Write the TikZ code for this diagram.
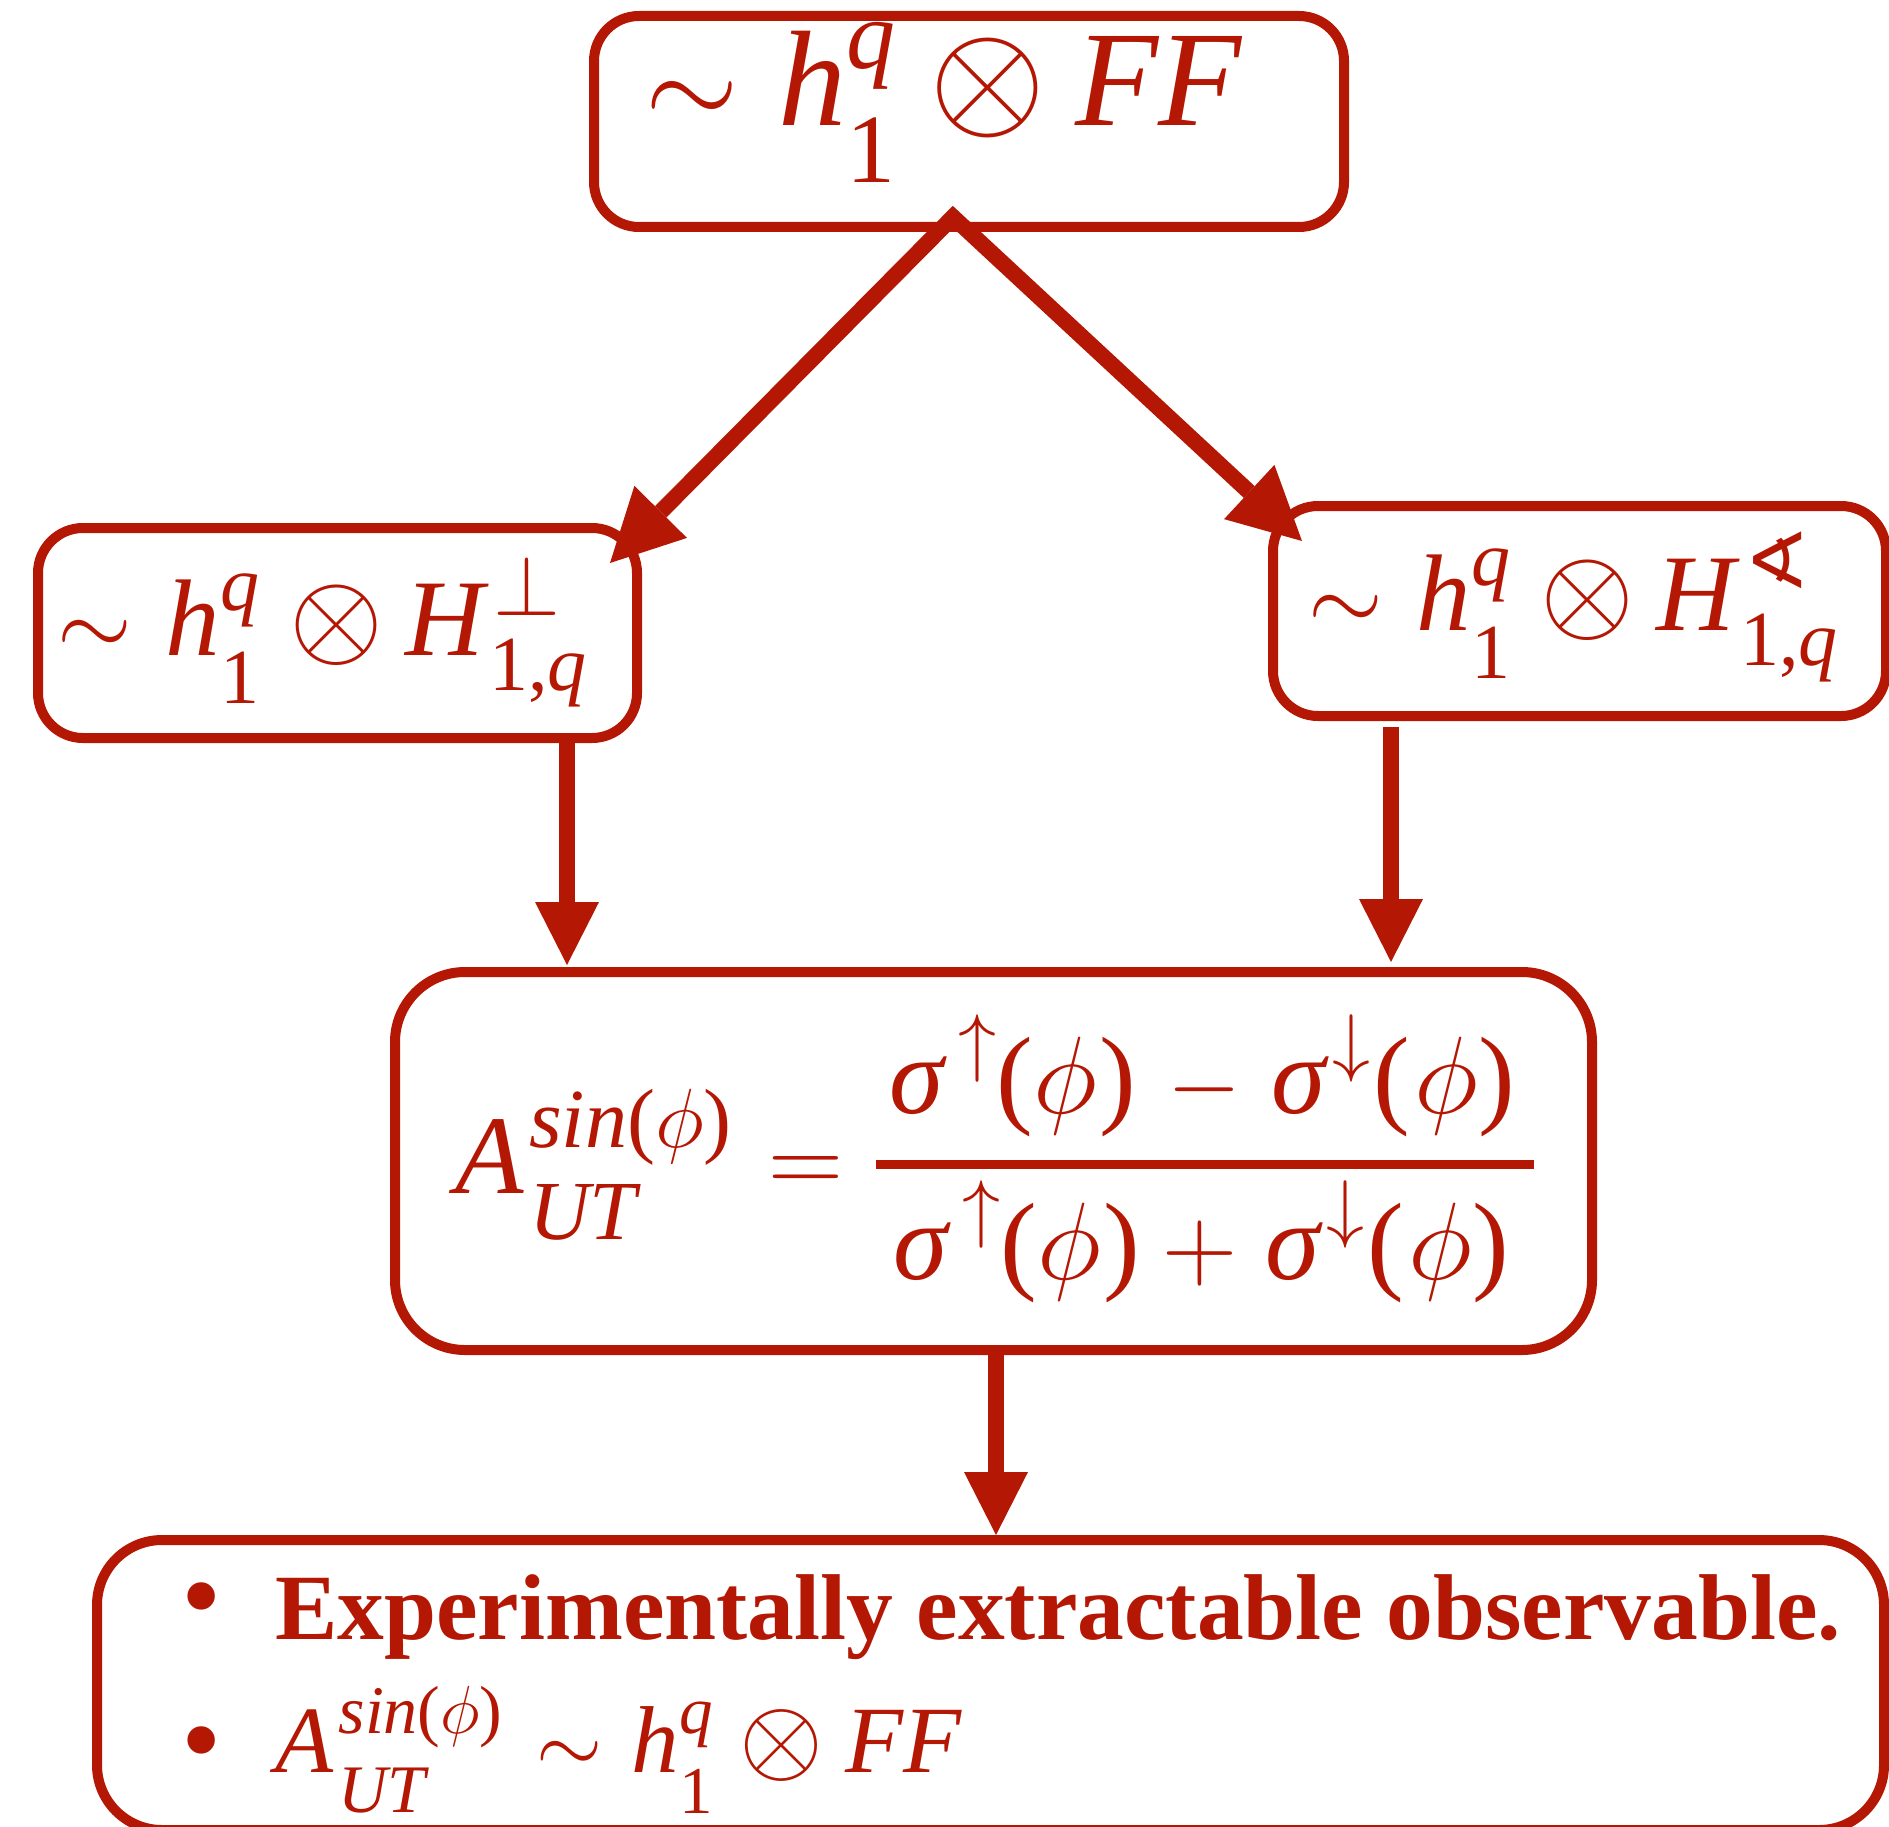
\RequirePackage{fix-cm}
\documentclass[tikz,border=0pt]{standalone}
\usepackage{amsmath}
\usepackage{fontspec}
\setmainfont{Liberation Serif}
\newfontfamily\djv{DejaVu Sans}
\usetikzlibrary{arrows.meta}
\definecolor{dred}{RGB}{180,24,4}
\newcommand{\fsz}[1]{\fontsize{#1}{#1}\selectfont}
% sup, sub, size, raise, drop
\newcommand{\supsub}[5]{\begingroup\fontsize{#3}{#3}\selectfont
  \setbox0=\hbox{#1}\setbox2=\hbox{#2}%
  \ifdim\wd0>\wd2 \dimen0=\wd0 \else \dimen0=\wd2 \fi
  \rlap{\raise#4\box0}\rlap{\lower#5\box2}\kern\dimen0 \endgroup}
\begin{document}
\begin{tikzpicture}[x=1pt,y=-1pt,
  box/.style={draw=dred,line width=10pt,rounded corners=#1,inner sep=0pt,outer sep=0pt},
  box/.default=45pt,
  txt/.style={text=dred,inner sep=0pt,anchor=base west},
  conn/.style={draw=dred,line width=16pt},
  vhead/.tip={Triangle[length=63pt,width=64pt,line width=0pt]},
  dhead/.tip={Triangle[length=72pt,width=74pt,line width=0pt]}]
\useasboundingbox (0,0) rectangle (1889,1827);
\clip (0,0) rectangle (1889,1827);
% boxes
\node[box, minimum width=750pt, minimum height=211pt] (top) at (969,121.5) {};
\node[box, minimum width=599pt, minimum height=210pt] (left) at (337.5,633) {};
\node[box, minimum width=613pt, minimum height=210pt] (right) at (1579.5,611) {};
\node[box=70pt, minimum width=1197pt, minimum height=378pt] (mid) at (993.5,1161) {};
\node[box=65pt, minimum width=1787pt, minimum height=290pt] (bot) at (990.5,1685) {};
% top text
\node[txt, font=\fsz{136}] (ttop) at (645,126)
  {{\fsz{120}$\sim$}\kern40pt\textit{h}\supsub{\textit{q}}{1}{98pt}{57pt}{57pt}\kern34pt{\fsz{150}$\otimes$}\kern29pt\textit{FF}};
% left text
\node[txt, font=\fsz{109}] (tleft) at (57,655)
  {{\fsz{96}$\sim$}\kern34pt\textit{h}\supsub{\textit{q}}{1}{78pt}{45pt}{48pt}\kern30pt{\fsz{121}$\otimes$}\kern22pt\textit{H}\kern0pt\supsub{\kern4pt{\fsz{86}$\perp$}}{1,\textit{q}}{78pt}{40pt}{35pt}};
% right text
\node[txt, font=\fsz{109}] (tright) at (1308,630)
  {{\fsz{96}$\sim$}\kern34pt\textit{h}\supsub{\textit{q}}{1}{78pt}{45pt}{48pt}\kern30pt{\fsz{121}$\otimes$}\kern22pt\textit{H}\kern0pt\supsub{\kern4pt{\djv ∢}}{1,\textit{q}}{78pt}{42pt}{35pt}};
% middle formula
\node[txt, font=\fsz{112}] (tA) at (455,1193)
  {\textit{A}\kern5pt\supsub{\textit{sin}($\phi$)}{\textit{UT}}{84pt}{46pt}{46pt}\kern37pt{\fsz{104}$=$}};
\node[txt, font=\fsz{110}] (tnum) at (889,1113)
  {\textit{σ}\kern12pt\raise46pt\hbox{\fsz{76}$\uparrow$}(\kern0pt$\phi$\kern2pt)\kern32pt{\fsz{95}$-$}\kern30pt\textit{σ}\kern3pt\raise46pt\hbox{\fsz{76}$\downarrow$}\kern3pt(\kern4pt$\phi$\kern1pt)};
\node[txt, font=\fsz{110}] (tden) at (893,1279)
  {\textit{σ}\kern12pt\raise46pt\hbox{\fsz{76}$\uparrow$}(\kern0pt$\phi$\kern2pt)\kern23pt{\fsz{104}$+$}\kern28pt\textit{σ}\kern3pt\raise46pt\hbox{\fsz{76}$\downarrow$}\kern3pt(\kern4pt$\phi$\kern1pt)};
\coordinate (fb0) at (876,1164);
\coordinate (fb1) at (1534,1164);
\draw[dred, line width=9pt] (fb0) -- (fb1);
% bottom texts
\node[txt, anchor=center, font=\fsz{115}] (bul1) at (202,1609) {•};
\node[txt, font=\fsz{93.5}\bfseries] (b1) at (275,1639) {Experimentally extractable observable.};
\node[txt, anchor=center, font=\fsz{115}] (bul2) at (202,1753) {•};
\node[txt, font=\fsz{95}] (b2) at (275,1772)
  {\textit{A}\kern5pt\supsub{\textit{sin}($\phi$)}{\textit{UT}}{68pt}{39pt}{40pt}\kern34pt{\fsz{85}$\sim$}\kern29pt\textit{h}\supsub{\textit{q}}{1}{67pt}{39pt}{41pt}\kern27pt{\fsz{108}$\otimes$}\kern22pt\textit{FF}};
% connectors
\coordinate (apex) at (953,217);
\coordinate (ltip) at (610,563);
\coordinate (rtip) at (1302,541);
\draw[conn, dhead-dhead] (ltip) -- (apex) -- (rtip);
\coordinate (l0) at (567,738);
\coordinate (l1) at (567,965);
\draw[conn, -vhead] (l0) -- (l1);
\coordinate (r0) at (1391,727);
\coordinate (r1) at (1391,962);
\draw[conn, -vhead] (r0) -- (r1);
\coordinate (m0) at (996,1350);
\coordinate (m1) at (996,1535);
\draw[conn, -vhead] (m0) -- (m1);
\end{tikzpicture}
\end{document}
